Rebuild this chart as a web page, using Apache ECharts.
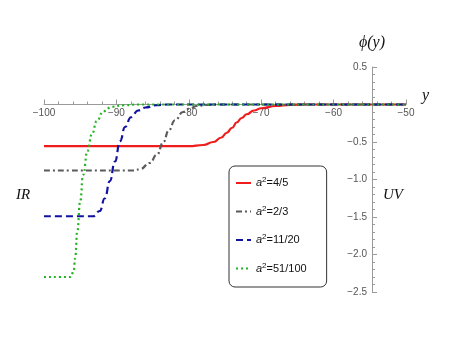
<!DOCTYPE html>
<html>
<head>
<meta charset="utf-8">
<script src="https://cdn.jsdelivr.net/npm/echarts@6/dist/echarts.min.js"></script>
<style>
  html, body { margin: 0; padding: 0; background: #fff; }
  #chart { width: 454px; height: 341px; }
</style>
</head>
<body>
<div id="chart"></div>
<script>
// legend fractions (a^2 values)
const fractions = ['4/5', '2/3', '11/20', '51/100']

// curves
const redX = [-100, -80, -78, -76.6, -75.5, -74.8, -74, -73.4, -72.7, -72, -71, -70, -68, -66, -64, -50]
const redY = [-0.555, -0.555, -0.54, -0.5, -0.44, -0.38, -0.31, -0.24, -0.18, -0.13, -0.08, -0.05, -0.02, -0.005, 0, 0]

const grayX = [-100, -87.5, -86.7, -85.4, -84.4, -83.5, -82.8, -81.9, -80.8, -79.8, -78.9, -77.5, -76, -50]
const grayY = [-0.88, -0.88, -0.86, -0.78, -0.67, -0.5, -0.35, -0.21, -0.1, -0.05, -0.02, -0.005, 0, 0]

const blueX = [-100, -93.2, -92.3, -91.6, -90.9, -90.2, -89.5, -88.8, -88.0, -87.0, -86.0, -84.5, -83, -50]
const blueY = [-1.49, -1.49, -1.42, -1.25, -1.02, -0.76, -0.49, -0.3, -0.17, -0.08, -0.04, -0.01, 0, 0]

const greenX = [-100, -96.3, -95.9, -95.7, -95.4, -95.0, -94.6, -94.0, -93.4, -92.7, -91.8, -90.6, -89, -87, -50]
const greenY = [-2.3, -2.3, -2.22, -2.05, -1.69, -1.29, -0.94, -0.62, -0.4, -0.22, -0.09, -0.03, -0.01, 0, 0]

// axis ticks
const xTicks = { min: -100, max: -50, interval: 10 }
const yTicks = { min: -2.5, max: 0.5, interval: 0.5 }

const zip = (xs, ys) => xs.map((x, i) => [x, ys[i]])
const minus = s => String(s).replace('-', '\u2212')

const axisGray = '#9a9a9a'
const labelGray = '#555'
const sans = 'Liberation Sans, Arial, sans-serif'
const serif = '"Liberation Serif", "DejaVu Serif", serif'

let chart = echarts.init(document.getElementById('chart'))

const curves = [
  { data: zip(redX, redY), color: '#ee1c1c', type: 'solid' },
  { data: zip(grayX, grayY), color: '#5a5a5a', type: [6, 3, 2, 3] },
  { data: zip(blueX, blueY), color: '#1212a0', type: [7, 4] },
  { data: zip(greenX, greenY), color: '#22b322', type: [2, 3] }
]

const tickStyle = { color: axisGray }

chart.setOption({
  animation: false,
  grid: [
    // plotting area
    { left: 44, right: 48, top: 67, bottom: 49, containLabel: false, outerBoundsMode: 'none' },
    // thin grid holding the vertical axis at x = -55
    { left: 372, width: 1, top: 67, bottom: 49, containLabel: false, outerBoundsMode: 'none' },
    // grid whose bottom edge sits on y = 0, holding the horizontal axis
    { left: 44, right: 48, top: 67, height: 37.5, containLabel: false, outerBoundsMode: 'none' }
  ],
  xAxis: [
    { type: 'value', gridIndex: 0, min: xTicks.min, max: xTicks.max, show: false },
    { type: 'value', gridIndex: 1, min: 0, max: 1, show: false },
    {
      type: 'value',
      gridIndex: 2,
      position: 'bottom',
      min: xTicks.min,
      max: xTicks.max,
      interval: xTicks.interval,
      axisLine: { onZero: false, lineStyle: { color: axisGray, width: 1 } },
      axisTick: { inside: true, length: 5, lineStyle: tickStyle },
      minorTick: { show: true, splitNumber: 5, length: 3, lineStyle: tickStyle },
      axisLabel: {
        color: labelGray,
        fontSize: 10,
        fontFamily: sans,
        margin: 4,
        showMinLabel: true,
        showMaxLabel: true,
        formatter: v => minus(v)
      },
      splitLine: { show: false }
    }
  ],
  yAxis: [
    { type: 'value', gridIndex: 0, min: yTicks.min, max: yTicks.max, show: false },
    {
      type: 'value',
      gridIndex: 1,
      position: 'left',
      min: yTicks.min,
      max: yTicks.max,
      interval: yTicks.interval,
      axisLine: { show: true, onZero: false, lineStyle: { color: axisGray, width: 1 } },
      axisTick: { show: true, inside: true, length: 5, lineStyle: tickStyle },
      minorTick: { show: true, splitNumber: 5, length: 3, lineStyle: tickStyle },
      axisLabel: {
        color: labelGray,
        fontSize: 10,
        fontFamily: sans,
        margin: 5,
        formatter: v => (v === 0 ? '' : minus(v.toFixed(1)))
      },
      splitLine: { show: false }
    },
    { type: 'value', gridIndex: 2, min: 0, max: 1, show: false }
  ],
  legend: {
    orient: 'vertical',
    left: 229,
    top: 166,
    padding: [10, 20, 13, 6],
    itemGap: 16,
    itemWidth: 15,
    itemHeight: 12,
    itemStyle: { opacity: 0 },
    borderColor: '#333',
    borderWidth: 1,
    borderRadius: 6,
    backgroundColor: '#fff',
    textStyle: {
      color: '#111',
      fontSize: 11,
      fontFamily: sans,
      rich: {
        a: { fontSize: 11, fontStyle: 'italic', color: '#111' },
        s: { fontSize: 8, color: '#111', padding: [0, 0, 6, 0] },
        b: { fontSize: 11, color: '#111' }
      }
    },
    formatter: name => '{a|a}{s|2}{b|' + name.slice(2) + '}',
    data: fractions.map(f => 'a\u00b2=' + f)
  },
  graphic: [
    { type: 'text', left: 359, top: 35, style: { text: '\u03d5(y)', font: 'italic 16px ' + serif, fill: '#111' } },
    { type: 'text', left: 422, top: 88, style: { text: 'y', font: 'italic 16px ' + serif, fill: '#111' } },
    { type: 'text', left: 16, top: 188, style: { text: 'IR', font: 'italic 15px ' + serif, fill: '#111' } },
    { type: 'text', left: 383, top: 188, style: { text: 'UV', font: 'italic 15px ' + serif, fill: '#111' } }
  ],
  series: curves.map((c, i) => ({
    name: 'a\u00b2=' + fractions[i],
    type: 'line',
    xAxisIndex: 0,
    yAxisIndex: 0,
    showSymbol: false,
    symbol: 'none',
    smooth: 0.5,
    smoothMonotone: 'x',
    color: c.color,
    lineStyle: { color: c.color, width: 2.2, type: c.type, cap: 'butt' },
    data: c.data,
    z: 3 + i
  }))
})
</script>
</body>
</html>
